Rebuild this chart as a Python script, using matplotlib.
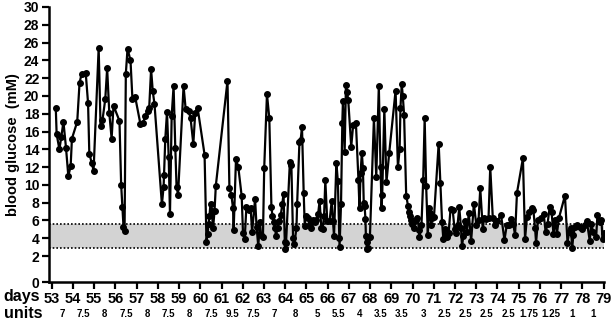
import matplotlib
matplotlib.use("Agg")
import matplotlib.pyplot as plt
import matplotlib.transforms as mtransforms

plt.rcParams['font.family'] = ['Liberation Sans', 'DejaVu Sans']
plt.rcParams['font.weight'] = 'bold'

# ---- data ----
days = [53.19, 53.23, 53.36, 53.45, 53.55, 53.67, 53.78, 53.89, 53.95, 54.2, 54.31, 54.41, 54.6, 54.71, 54.77,
        54.88, 54.97, 55.21, 55.3, 55.39, 55.52, 55.61, 55.71, 55.82, 55.91, 56.19, 56.27, 56.33, 56.38, 56.43,
        56.49, 56.57, 56.71, 56.8, 56.93, 57.18, 57.3, 57.41, 57.52, 57.59, 57.68, 57.76, 57.84,
        58.19, 58.27, 58.29, 58.35, 58.43, 58.51, 58.57, 58.65, 58.74, 58.82, 58.88, 58.95, 59.21, 59.31, 59.45,
        59.54, 59.67, 59.76, 59.87, 60.2, 60.29, 60.34, 60.39, 60.43, 60.48, 60.54, 60.6, 60.67, 60.73, 61.28,
        61.37, 61.46, 61.54, 61.57, 61.68, 61.79, 61.95, 62.01, 62.09, 62.17, 62.28, 62.37, 62.44, 62.58, 62.65,
        62.73, 62.81, 62.86, 62.95, 63.01, 63.14, 63.25,
        63.35, 63.4, 63.45, 63.53, 63.56, 63.64, 63.7, 63.79, 63.86, 63.92, 63.98, 64.0, 64.04, 64.22, 64.29,
        64.37, 64.43, 64.53, 64.56, 64.67, 64.73, 64.79, 64.87, 64.92, 64.98, 65.06, 65.15, 65.23, 65.31, 65.39,
        65.47, 65.55, 65.62, 65.7, 65.76, 65.83, 65.89, 65.98, 66.09, 66.19, 66.25, 66.3, 66.41, 66.48, 66.55,
        66.56, 66.63, 66.69, 66.72, 66.8, 66.86, 66.92, 66.97, 67.11, 67.2, 67.33, 67.45, 67.5, 67.55, 67.61,
        67.66, 67.7, 67.74, 67.78, 67.8, 67.83, 67.85, 67.88, 67.92, 67.99,
        68.18, 68.29, 68.41, 68.49, 68.54, 68.57, 68.67, 68.77, 68.9, 69.2, 69.31, 69.39, 69.43, 69.49, 69.54,
        69.6, 69.7, 69.79, 69.82, 69.87, 69.93, 69.99, 70.06, 70.14, 70.23, 70.31, 70.32, 70.42, 70.5, 70.57,
        70.64, 70.72, 70.76, 70.81, 70.87, 70.93, 71.01,
        71.23, 71.31, 71.39, 71.45, 71.51, 71.61, 71.7, 71.79, 71.89, 71.98, 72.04, 72.12, 72.2, 72.28, 72.33,
        72.39, 72.47, 72.56, 72.65, 72.76, 72.89, 73.0, 73.11, 73.19, 73.31, 73.37, 73.48, 73.58, 73.66, 73.78,
        73.87, 73.97, 74.17, 74.33, 74.44, 74.55, 74.64, 74.74, 74.83, 74.92, 75.2, 75.3, 75.39, 75.49, 75.61,
        75.69, 75.77, 75.82, 75.91, 76.03, 76.18, 76.27, 76.36, 76.46, 76.55, 76.64, 76.72, 76.8, 76.9, 77.18,
        77.3, 77.38, 77.46, 77.52, 77.58, 77.66, 77.74, 77.88, 77.97, 78.12, 78.21, 78.35, 78.41, 78.52, 78.65,
        78.71, 78.82, 78.9, 78.95, 79.01]

glucose = [18.6, 15.7, 14.0, 15.4, 17.1, 14.2, 11.0, 12.1, 15.2, 17.1, 21.5, 22.5, 22.6, 19.2, 13.5,
           12.5, 11.6, 25.4, 16.6, 17.3, 19.6, 23.1, 18.1, 15.2, 18.9, 17.2, 10.0, 7.5, 5.3, 4.8,
           22.5, 25.3, 24.0, 19.7, 19.9, 16.8, 17.0, 17.7, 18.3, 18.6, 23.0, 20.5, 19.1,
           7.8, 9.8, 11.1, 15.2, 18.2, 13.1, 6.7, 17.75, 21.1, 14.2, 9.8, 8.9, 21.1, 18.5, 18.3,
           17.5, 14.6, 18.1, 18.7, 13.4, 3.6, 4.5, 5.6, 6.5, 7.9, 7.1, 5.1, 7.1, 9.9, 21.7,
           9.7, 8.9, 7.4, 4.9, 12.9, 12.0, 8.7, 4.6, 3.9, 7.5, 7.2, 7.4, 4.7, 8.4, 5.3,
           3.1, 5.8, 4.4, 4.1, 11.9, 20.2, 17.5,
           7.5, 6.5, 5.8, 5.2, 4.2, 5.2, 5.9, 6.6, 7.8, 9.0, 3.6, 2.8, 3.5, 12.6, 12.2,
           4.0, 3.3, 5.2, 7.8, 14.8, 15.1, 16.5, 9.1, 5.4, 6.5, 6.3, 5.6, 5.2, 6.1, 5.8,
           6.1, 6.7, 8.2, 5.2, 5.0, 6.5, 10.5, 5.9, 5.9, 8.2, 5.9, 4.25, 12.5, 10.4, 4.0,
           3.0, 7.9, 17.0, 19.4, 13.7, 21.2, 20.4, 19.5, 14.3, 16.7, 17.0, 10.6, 7.35, 11.3, 13.6,
           11.9, 8.0, 7.6, 6.2, 4.3, 3.6, 2.8, 2.9, 4.0, 4.1,
           17.5, 10.9, 21.1, 12.0, 7.35, 8.9, 18.55, 10.3, 13.6, 20.6, 12.0, 14.0, 18.7, 21.3, 20.0,
           17.9, 8.8, 7.6, 7.0, 6.5, 6.1, 5.6, 5.2, 6.1, 6.3, 4.9, 4.1, 5.5, 10.5, 17.5,
           9.9, 4.4, 7.35, 6.8, 5.5, 6.3, 6.4,
           14.65, 10.2, 5.8, 3.9, 5.0, 4.1, 4.6, 7.3, 7.2, 5.0, 4.6, 5.5, 7.5, 5.2, 3.1,
           4.2, 5.9, 4.7, 6.8, 3.7, 7.9, 5.5, 6.1, 9.6, 5.0, 6.3, 6.2, 6.3, 12.0, 6.3,
           5.5, 5.9, 6.6, 3.8, 5.5, 5.5, 6.2, 5.6, 4.4, 9.1, 13.0, 3.9, 6.4, 7.0, 7.35,
           7.2, 5.2, 3.5, 6.1, 6.3, 6.7, 4.7, 5.6, 7.5, 6.9, 4.5, 6.1, 4.5, 6.3, 8.8,
           3.5, 4.7, 5.2, 2.9, 4.4, 5.3, 5.5, 5.3, 5.0, 5.45, 5.9, 3.7, 5.6, 4.7, 4.1,
           6.6, 5.8, 6.0, 3.9, 4.6]

day_ticks = list(range(53, 80))
units = ["7", "7.5", "8", "7.5", "8", "7.5", "8", "7.5", "9.5", "7.5", "7", "8", "5",
         "5.5", "4", "3.5", "3.5", "3", "2.5", "2.5", "2.5", "2.5", "1.75", "1.25", "1", "1"]
range_low, range_high = 2.9, 5.6
y_ticks = list(range(2, 31, 2))
y_bottom = -0.92

# ---- figure ----
fig = plt.figure(figsize=(6.14, 3.22), dpi=100)
ax = fig.add_axes([49/614, (322-282)/322, (604-49)/614, (282-7)/322])

ax.axhspan(range_low, range_high, color='#d3d3d3', zorder=0, lw=0)
ax.axhline(range_low, color='black', ls=(0, (1, 1.2)), lw=1.2, zorder=1)
ax.axhline(range_high, color='black', ls=(0, (1, 1.2)), lw=1.2, zorder=1)

ax.plot(days, glucose, color='black', lw=1.6, marker='o', ms=4, zorder=3)

ax.set_xlim(52.87, 79.02)
ax.set_ylim(y_bottom, 30)
ax.set_xticks(day_ticks)
ax.set_xticklabels([str(d) for d in day_ticks], fontsize=10.5, fontweight='bold')
ax.set_yticks([y_bottom] + y_ticks)
ax.set_yticklabels(["0"] + [str(t) for t in y_ticks], fontsize=10, fontweight='bold')
ax.set_ylabel("blood glucose  (mM)", fontsize=10.5, fontweight='bold', labelpad=3)

for s in ['top', 'right']:
    ax.spines[s].set_visible(False)
for s in ['left', 'bottom']:
    ax.spines[s].set_linewidth(1.8)
ax.tick_params(axis='both', width=1.6, length=5, direction='out', pad=2)

fig.text(22/614, 1 - 297/322, "days", fontsize=11.5, fontweight='bold', ha='center', va='center')
fig.text(23/614, 1 - 314/322, "units", fontsize=11.5, fontweight='bold', ha='center', va='center')
trans = mtransforms.blended_transform_factory(ax.transData, fig.transFigure)
for i, u in enumerate(units):
    ax.text(day_ticks[i] + 0.5, 1 - 314/322, u, transform=trans, fontsize=7, fontweight='bold',
            ha='center', va='center', clip_on=False)

fig.savefig("out.png", dpi=100)
